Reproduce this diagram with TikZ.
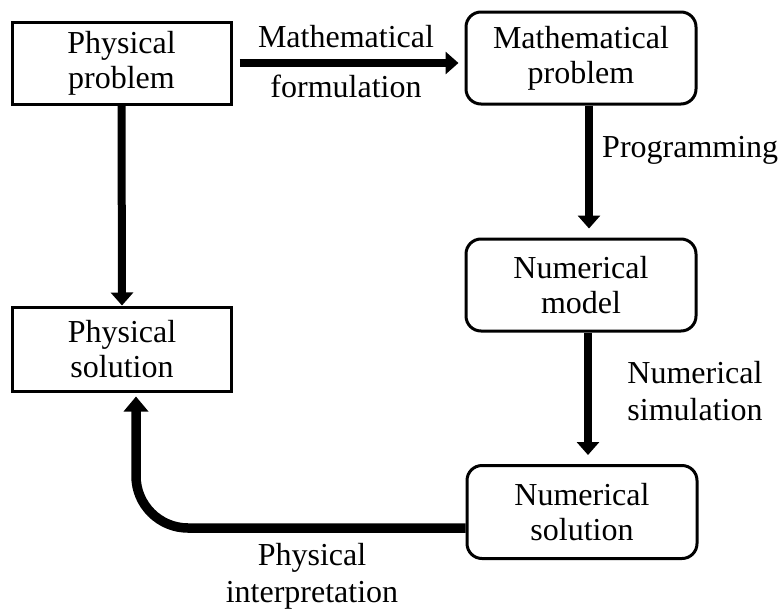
\documentclass[tikz,border=0pt]{standalone}
\usepackage{fontspec}
\setmainfont{Liberation Serif}
\usetikzlibrary{arrows.meta}
\begin{document}
\begin{tikzpicture}[x=1pt,y=-1pt,
  txt/.style={font=\fontsize{32}{35}\selectfont},
  sbox/.style={txt, draw=black, line width=3pt, inner sep=0pt, align=center},
  rbox/.style={sbox, rounded corners=15pt},
  flow/.style={line width=8pt, -{Triangle[width=22pt,length=13pt]}},
  lbl/.style={txt, inner sep=0pt, anchor=base}
]
\useasboundingbox (0,0) rectangle (784,608);
% boxes
\node[sbox, minimum width=219pt, minimum height=82pt] (pp) at (121.5,63) {Physical\\problem};
\node[rbox, minimum width=230pt, minimum height=92pt] (mp) at (581,58) {Mathematical\\problem};
\node[rbox, minimum width=230pt, minimum height=92pt] (nm) at (581,285) {Numerical\\model};
\node[rbox, minimum width=230pt, minimum height=93pt] (ns) at (582,512) {Numerical\\solution};
\node[sbox, minimum width=219pt, minimum height=84pt] (ps) at (122,349) {Physical\\solution};
% connectors
\draw[flow, shorten <=7pt, shorten >=6pt] (pp.east) -- (pp.east -| mp.west);
\draw[flow] (pp.south) -- (ps.north);
\draw[flow, shorten >=9pt] ([xshift=8pt]mp.south) -- ([xshift=8pt]nm.north);
\draw[flow, shorten >=9pt] ([xshift=7pt]nm.south) -- ([xshift=6pt]ns.north);
\draw[flow, line width=9.5pt, -{Triangle[width=24pt,length=15pt]}, rounded corners=52pt, shorten >=4pt] ([yshift=-16pt]ns.west) -| ([xshift=14pt]ps.south);
% labels
\node[lbl] (lf) at (346,47) {\begin{tabular}[t]{@{}c@{}}Mathematical\\[15pt]formulation\end{tabular}};
\node[lbl, anchor=base west] (lp) at (602,157) {Programming};
\node[lbl] (lsim) at (695,383) {\begin{tabular}[t]{@{}c@{}}Numerical\\[2pt]simulation\end{tabular}};
\node[lbl] (li) at (312,565) {\begin{tabular}[t]{@{}c@{}}Physical\\[2pt]interpretation\end{tabular}};
\end{tikzpicture}
\end{document}
